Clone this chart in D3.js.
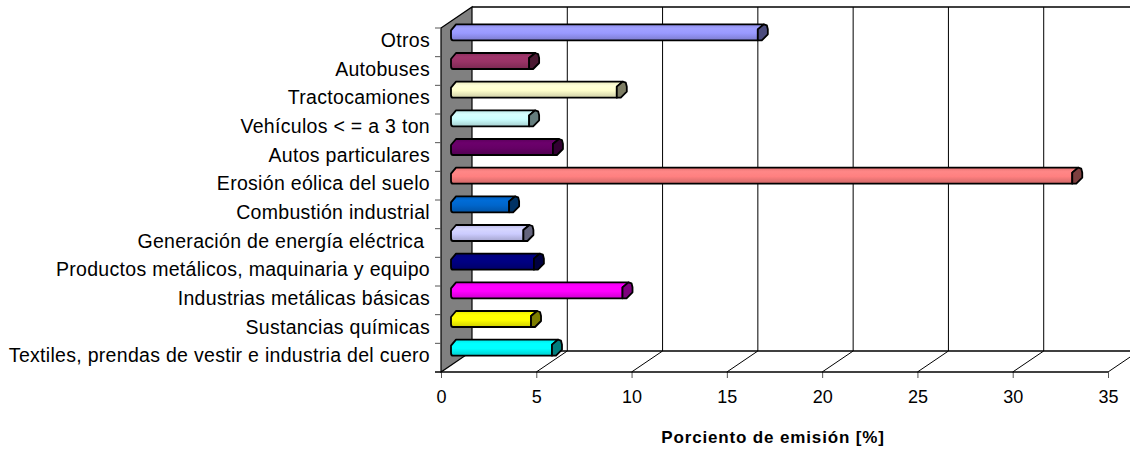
<!DOCTYPE html>
<html>
<head>
<meta charset="utf-8">
<script src="https://cdn.jsdelivr.net/npm/d3@7/dist/d3.min.js"></script>
<style>
	html, body {margin: 0; padding: 0; background: #fff; overflow: hidden;}
	text {font-family: "Liberation Sans", Arial, sans-serif; fill: #000;}
</style>
</head>
<body>
<svg class="chart" width="1130" height="449"></svg>
<script>
// top to bottom
const categories = [
	'Otros', 'Autobuses', 'Tractocamiones', 'Vehículos < = a 3 ton', 'Autos particulares',
	'Erosión eólica del suelo', 'Combustión industrial', 'Generación de energía eléctrica ',
	'Productos metálicos, maquinaria y equipo', 'Industrias metálicas básicas',
	'Sustancias químicas', 'Textiles, prendas de vestir e industria del cuero'
];
const values = [16.1, 4.1, 8.7, 4.1, 5.35, 32.6, 3.05, 3.8, 4.35, 9, 4.2, 5.3];
const barColors = [
	'#9999ff', '#993366', '#ffffcc', '#ccffff', '#660066', '#ff8080',
	'#0066cc', '#ccccff', '#000080', '#ff00ff', '#ffff00', '#00ffff'
];
const xTicks = [0, 5, 10, 15, 20, 25, 30, 35];
const xTitle = 'Porciento de emisión [%]';

const depth = {x: 31, y: -21};
const floorY = 372;
const topY = 28;
const svg = d3.select('.chart');
const xScale = d3.scaleLinear().domain([0, 35]).range([441, 1108]);
const yScale = d3.scaleBand().domain(categories).range([topY, floorY]);
const line = d3.line();

// walls and floor
const chart = svg.append('g');
chart.append('path')
	.attr('d', line([[441, topY], [441 + depth.x, topY + depth.y], [441 + depth.x, floorY + depth.y], [441, floorY]]) + 'Z')
	.attr('fill', '#808080')
	.attr('stroke', '#000')
	.attr('stroke-width', 1.2);
chart.append('path')
	.attr('d', line([[441 + depth.x, topY + depth.y], [1130, topY + depth.y]]))
	.attr('stroke', '#000')
	.attr('stroke-width', 1.5);
chart.append('path')
	.attr('d', line([[441 + depth.x, floorY + depth.y], [1130, floorY + depth.y]]))
	.attr('stroke', '#000')
	.attr('stroke-width', 1.5);

xTicks.filter(t => t > 0).forEach(t => {
	const x = xScale(t);
	chart.append('path')
		.attr('d', line([[x + depth.x, topY + depth.y], [x + depth.x, floorY + depth.y], [x, floorY]]))
		.attr('fill', 'none')
		.attr('stroke', '#000')
		.attr('stroke-width', 1);
});

// x axis
const xAxis = d3.axisBottom(xScale).tickValues(xTicks).tickSize(6).tickPadding(12);
const xAxisG = chart.append('g')
	.attr('transform', `translate(0, ${floorY})`)
	.call(xAxis);
xAxisG.select('.domain').remove();
xAxisG.selectAll('line').attr('stroke', '#555');
xAxisG.selectAll('text').attr('font-size', 18).attr('font-family', null);
chart.append('path')
	.attr('d', line([[435, floorY], [1108, floorY]]))
	.attr('stroke', '#000')
	.attr('stroke-width', 1.5);

// y axis, ticks sit on the band edges
const yAxis = d3.axisLeft(yScale).tickSize(0).tickPadding(11);
const yAxisG = chart.append('g')
	.attr('transform', 'translate(441, 0)')
	.call(yAxis);
yAxisG.select('.domain').remove();
yAxisG.selectAll('text')
	.attr('font-size', 19.5)
	.attr('font-family', null)
	.attr('letter-spacing', 0.3)
	.attr('dy', 4.5)
	.style('white-space', 'pre');
chart.selectAll('.y-tick')
	.data(categories)
	.enter()
	.append('line')
	.attr('class', 'y-tick')
	.attr('x1', 435)
	.attr('x2', 441)
	.attr('y1', d => yScale(d))
	.attr('y2', d => yScale(d))
	.attr('stroke', '#555');

// bars
const defs = svg.append('defs');
barColors.forEach((color, i) => {
	const base = d3.color(color);
	const grad = defs.append('linearGradient')
		.attr('id', `bar-${i}`)
		.attr('x1', 0).attr('x2', 0).attr('y1', 0).attr('y2', 1);
	grad.append('stop').attr('offset', '0%').attr('stop-color', base.darker(0.25));
	grad.append('stop').attr('offset', '25%').attr('stop-color', base.brighter(0.15));
	grad.append('stop').attr('offset', '55%').attr('stop-color', base);
	grad.append('stop').attr('offset', '100%').attr('stop-color', base.darker(0.6));
});

const barOffset = {x: 10, y: -10};
const bar = chart.selectAll('.bar')
	.data(categories)
	.enter()
	.append('g')
	.attr('class', 'bar');

bar.append('path')
	.attr('d', (d, i) => {
		const c = yScale(d) + yScale.bandwidth() / 2 + barOffset.y;
		const left = xScale(0) + barOffset.x;
		const end = xScale(values[i]) + barOffset.x;
		return `M${left},${c - 2}L${left + 5},${c - 8}L${end + 6},${c - 8}L${end},${c - 3}L${end},${c + 8}L${left + 2},${c + 8}Q${left},${c + 8} ${left},${c + 5}Z`;
	})
	.attr('fill', (d, i) => `url(#bar-${i})`)
	.attr('stroke', '#000')
	.attr('stroke-width', 1.8)
	.attr('stroke-linejoin', 'round');

bar.append('path')
	.attr('d', (d, i) => {
		const c = yScale(d) + yScale.bandwidth() / 2 + barOffset.y;
		const end = xScale(values[i]) + barOffset.x;
		return `M${end},${c - 3}L${end + 6},${c - 8}L${end + 9},${c - 7}L${end + 10},${c - 3}L${end + 10},${c + 2}L${end + 4},${c + 8}L${end},${c + 8}Z`;
	})
	.attr('fill', (d, i) => d3.color(barColors[i]).darker(2))
	.attr('stroke', '#000')
	.attr('stroke-width', 1.8)
	.attr('stroke-linejoin', 'round');

// axis title
svg.append('text')
	.attr('x', 773)
	.attr('y', 443)
	.attr('text-anchor', 'middle')
	.attr('font-size', 17)
	.attr('font-weight', 'bold')
	.attr('letter-spacing', 0.85)
	.text(xTitle);
</script>
</body>
</html>
